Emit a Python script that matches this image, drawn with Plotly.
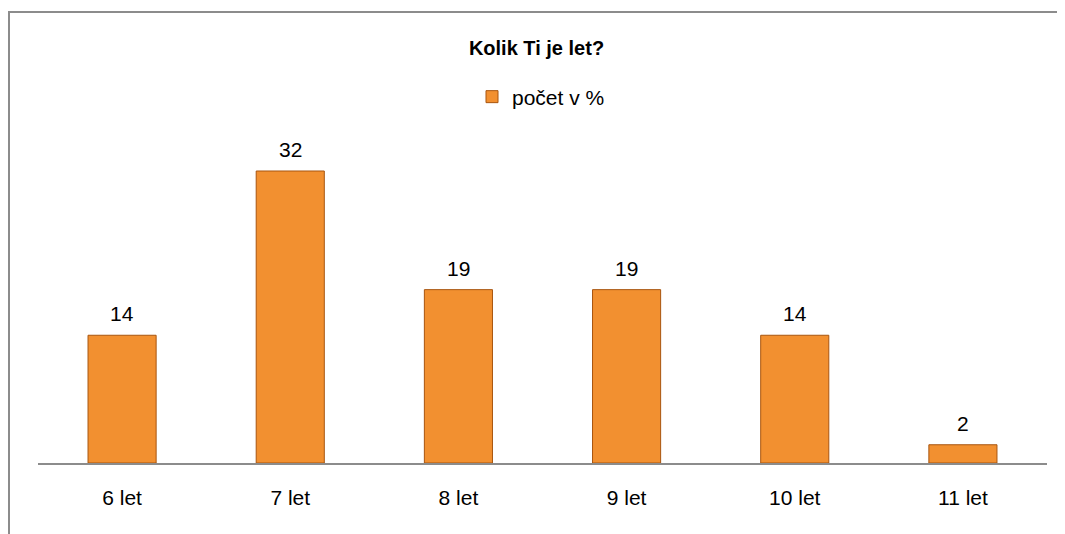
import plotly.graph_objects as go

# chart data
categories = ["6 let", "7 let", "8 let", "9 let", "10 let", "11 let"]
values = [14, 32, 19, 19, 14, 2]
series_name = "počet v %"
chart_title = "Kolik Ti je let?"

# the page body adds an 8px margin, so the figure is drawn 8px smaller
OFF = 8
W, H = 1065 - OFF, 534 - OFF
# plot area in page pixels
plot_l, plot_r, plot_t, plot_b = 38, 1047, 135, 463


def px_x(px):
    return (px - plot_l) / (plot_r - plot_l)


def px_y(py):
    return (plot_b - py) / (plot_b - plot_t)


fig = go.Figure()

fig.add_trace(go.Bar(
    x=categories,
    y=values,
    name=series_name,
    width=0.405,
    marker=dict(color="#F29030", line=dict(color="#A8550F", width=1)),
    showlegend=True,
))

# value labels above the bars
for c, v in zip(categories, values):
    fig.add_annotation(
        x=c, y=v, text=str(v), showarrow=False,
        yanchor="bottom", yshift=8,
        font=dict(size=21, color="#000000"),
    )

fig.update_layout(
    width=W,
    height=H,
    paper_bgcolor="white",
    plot_bgcolor="white",
    margin=dict(l=plot_l - OFF, r=W - (plot_r - OFF), t=plot_t - OFF, b=H - (plot_b - OFF)),
    font=dict(family="Liberation Sans, Arial", color="#000000"),
    title=dict(
        text="<b>" + chart_title + "</b>",
        x=0.5, xanchor="center",
        y=1 - (48 - OFF) / H, yanchor="middle",
        font=dict(size=20, color="#000000"),
    ),
    legend=dict(
        orientation="h",
        x=px_x(472), xanchor="left",
        y=px_y(97), yanchor="middle",
        font=dict(size=21),
        itemwidth=30,
        bgcolor="rgba(0,0,0,0)",
    ),
    xaxis=dict(
        showline=True, linecolor="#8C8C8C", linewidth=2,
        showgrid=False, ticks="",
        tickfont=dict(size=21),
        ticklabelstandoff=15,
        fixedrange=True,
    ),
    yaxis=dict(
        range=[0, (plot_b - plot_t) / 9.125],
        visible=False,
        showgrid=False,
        fixedrange=True,
    ),
    bargap=0.595,
    shapes=[
        dict(type="line", xref="paper", yref="paper",
             x0=px_x(9), x1=px_x(9), y0=px_y(11), y1=px_y(560),
             line=dict(color="#8C8C8C", width=2)),
        dict(type="line", xref="paper", yref="paper",
             x0=px_x(8), x1=px_x(1080), y0=px_y(12), y1=px_y(12),
             line=dict(color="#8C8C8C", width=2)),
    ],
)

fig.write_html("out.html")
